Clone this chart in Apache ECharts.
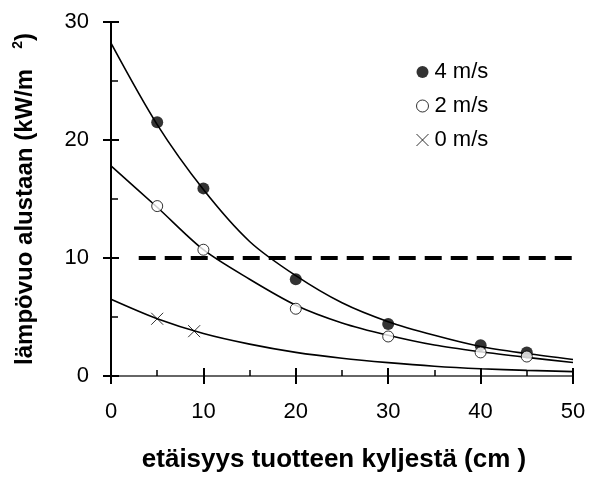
<!DOCTYPE html>
<html>
<head>
<meta charset="utf-8">
<script src="https://cdn.jsdelivr.net/npm/echarts@6/dist/echarts.min.js"></script>
<style>
html,body{margin:0;padding:0;background:#fff;}
#chart{width:590px;height:479px;}
</style>
</head>
<body>
<div id="chart"></div>
<script>
// ---- data ----
const seriesNames = ['4 m/s', '2 m/s', '0 m/s'];
const dist4 = [5, 10, 20, 30, 40, 45];
const flux4 = [21.5, 15.9, 8.2, 4.4, 2.6, 2.0];
const dist2 = [5, 10, 20, 30, 40, 45];
const flux2 = [14.4, 10.7, 5.7, 3.35, 2.0, 1.65];
const dist0 = [5, 9];
const flux0 = [4.85, 3.8];
// fitted curves
const curveX = [0, 5, 10, 15, 20, 25, 30, 35, 40, 45, 50];
const curve4 = [28.2, 21.3, 15.8, 11.4, 8.5, 6.2, 4.6, 3.45, 2.5, 1.9, 1.4];
const curve2 = [17.8, 14.3, 10.7, 8.2, 6.0, 4.5, 3.45, 2.62, 2.05, 1.58, 1.15];
const curve0 = [6.5, 4.85, 3.6, 2.7, 2.0, 1.5, 1.13, 0.83, 0.62, 0.48, 0.37];
// dashed reference level
const limitX = [3, 50];
const limitY = [10, 10];

const xTitle = 'etäisyys tuotteen kyljestä (cm )';
const yTitleMain = 'lämpövuo alustaan (kW/m';
const yTitleSup = '2';

const FONT = '"Liberation Sans", Arial, sans-serif';
const pairs = (xs, ys) => xs.map((x, i) => [x, ys[i]]);
const crossPath = 'path://M0,0L10,10M10,0L0,10';

const chart = echarts.init(document.getElementById('chart'), null, {renderer: 'canvas'});
const curveStyle = {color: '#000', width: 1.6};

chart.setOption({
  animation: false,
  backgroundColor: '#fff',
  grid: {left: 111, right: 17, top: 22, bottom: 103, containLabel: false},
  legend: {
    orient: 'vertical', left: 409, top: 55,
    itemWidth: 12, itemHeight: 12, itemGap: 10,
    selectedMode: false,
    textStyle: {fontFamily: FONT, fontSize: 22, color: '#000', lineHeight: 24, padding: [0, 0, 0, 1]},
    data: [
      {name: seriesNames[0], icon: 'circle', itemStyle: {color: '#000', borderWidth: 0}},
      {name: seriesNames[1], icon: 'circle', itemStyle: {color: '#fff', borderColor: '#000', borderWidth: 1}},
      {name: seriesNames[2], icon: crossPath, itemStyle: {color: 'none', borderColor: '#000', borderWidth: 1}}
    ]
  },
  xAxis: [
    {
      type: 'value', min: 0, max: 50, interval: 10, position: 'bottom',
      axisLine: {lineStyle: {color: '#000', width: 2}},
      axisTick: {show: true, inside: false, length: 8, lineStyle: {color: '#000', width: 2}},
      splitLine: {show: false},
      axisLabel: {fontFamily: FONT, fontSize: 22, color: '#000', margin: 25},
      name: xTitle, nameLocation: 'middle', nameGap: 71,
      nameTextStyle: {fontFamily: FONT, fontSize: 26, fontWeight: 'bold', color: '#000', padding: [0, 16, 0, 0]}
    },
    {
      type: 'value', min: 0, max: 50, interval: 10, position: 'bottom', offset: 0,
      axisLine: {show: false},
      axisTick: {show: true, inside: true, length: 8, lineStyle: {color: '#000', width: 2}},
      minorTick: {show: true, splitNumber: 2, length: 6, lineStyle: {color: '#000', width: 1.5}},
      splitLine: {show: false}, axisLabel: {show: false}
    },
    {
      type: 'value', min: 0, max: 50, position: 'top',
      axisLine: {lineStyle: {color: '#888', width: 1.5}},
      axisTick: {show: false}, axisLabel: {show: false}, splitLine: {show: false}
    }
  ],
  yAxis: [
    {
      type: 'value', min: 0, max: 30, interval: 10, position: 'left',
      axisLine: {lineStyle: {color: '#000', width: 2}},
      axisTick: {show: true, inside: false, length: 8, lineStyle: {color: '#000', width: 2}},
      splitLine: {show: false},
      axisLabel: {fontFamily: FONT, fontSize: 22, color: '#000', margin: 22},
      name: '{a|' + yTitleMain + '}{a|   }{s|' + yTitleSup + '}{a|)}',
      nameLocation: 'middle', nameGap: 72, nameRotate: 90,
      nameTextStyle: {
        fontFamily: FONT, fontSize: 24, fontWeight: 'bold', color: '#000',
        rich: {
          a: {fontFamily: FONT, fontSize: 24, fontWeight: 'bold', color: '#000', lineHeight: 28},
          s: {fontFamily: FONT, fontSize: 14, fontWeight: 'bold', color: '#000', verticalAlign: 'top', lineHeight: 28, padding: [0, 0, 12, 0]}
        }
      }
    },
    {
      type: 'value', min: 0, max: 30, interval: 10, position: 'left', offset: 0,
      axisLine: {show: false},
      axisTick: {show: true, inside: true, length: 8, lineStyle: {color: '#000', width: 2}},
      minorTick: {show: true, splitNumber: 2, length: 7, lineStyle: {color: '#000', width: 1.5}},
      splitLine: {show: false}, axisLabel: {show: false}
    },
    {
      type: 'value', min: 0, max: 30, position: 'right',
      axisLine: {lineStyle: {color: '#000', width: 2}},
      axisTick: {show: false}, axisLabel: {show: false}, splitLine: {show: false}
    }
  ],
  series: [
    {type: 'line', name: 'fit4', data: pairs(curveX, curve4), smooth: 0.3, showSymbol: false, symbol: 'none', lineStyle: curveStyle, silent: true, z: 2},
    {type: 'line', name: 'fit2', data: pairs(curveX, curve2), smooth: 0.3, showSymbol: false, symbol: 'none', lineStyle: curveStyle, silent: true, z: 2},
    {type: 'line', name: 'fit0', data: pairs(curveX, curve0), smooth: 0.3, showSymbol: false, symbol: 'none', lineStyle: curveStyle, silent: true, z: 2},
    {type: 'line', name: 'limit', data: pairs(limitX, limitY), showSymbol: false, symbol: 'none',
     lineStyle: {color: '#000', width: 4, type: [17, 9]}, silent: true, z: 2},
    {type: 'scatter', name: seriesNames[0], data: pairs(dist4, flux4), symbol: 'circle', symbolSize: 12,
     itemStyle: {color: '#000'}, z: 5},
    {type: 'scatter', name: seriesNames[1], data: pairs(dist2, flux2), symbol: 'circle', symbolSize: 11,
     itemStyle: {color: '#fff', borderColor: '#000', borderWidth: 1}, z: 5},
    {type: 'scatter', name: seriesNames[2], data: pairs(dist0, flux0), symbol: crossPath, symbolSize: 12,
     itemStyle: {color: 'none', borderColor: '#000', borderWidth: 1}, z: 5}
  ]
});
</script>
</body>
</html>
